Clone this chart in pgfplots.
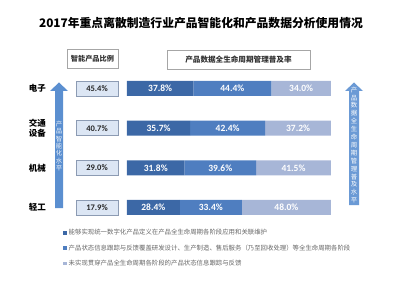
\documentclass[border=0pt]{standalone}
\usepackage{pgfplots}
\pgfplotsset{compat=1.18}
\usepackage{pgfplotstable}
\usepackage{fontspec}
\setmainfont{Noto Sans CJK SC}
\newfontfamily\cjk{Noto Sans CJK SC}
\newfontfamily\num{Carlito}
\definecolor{c1}{HTML}{3C68A6}
\definecolor{c2}{HTML}{4F7EC0}
\definecolor{c3}{HTML}{A7B6D7}
\definecolor{boxfill}{HTML}{DCE6F4}
\definecolor{boxdraw}{HTML}{8C9BB3}
\definecolor{arrowc}{HTML}{5B8FD0}
\definecolor{legtext}{HTML}{666666}

\pgfplotstableread{
y a b c p
3 37.8 44.4 34.0 45.4
2 35.7 42.4 37.2 40.7
1 31.8 39.6 41.5 29.0
0 28.4 33.4 48.0 17.9
}\data

\begin{document}
\begin{tikzpicture}[x=1pt,y=1pt]
\useasboundingbox (0,0) rectangle (400,290);
% title
\node[font=\cjk\bfseries\fontsize{11.8}{13}\selectfont] at (201,267) {2017年重点离散制造行业产品智能化和产品数据分析使用情况};
% header boxes
\node[draw=gray!70, fill=white, minimum width=51pt, minimum height=19pt, inner sep=0pt,
  font=\cjk\bfseries\fontsize{7.2}{8}\selectfont, text=black!80] at (92.5,231) {智能产品比例};
\node[draw=gray!70, fill=white, minimum width=143pt, minimum height=19pt, inner sep=0pt,
  font=\cjk\bfseries\fontsize{7.6}{8}\selectfont, text=black!80] at (238.5,230) {产品数据全生命周期管理普及率};
% arrows
\fill[arrowc] (55,82) -- (63,82) -- (63,199) -- (68,199) -- (59,207.5) -- (50,199) -- (55,199) -- cycle;
\node[align=center, inner sep=0pt, text=white!90!arrowc, font=\cjk\fontsize{6.4}{7.4}\selectfont] at (59,144) {产\\品\\智\\能\\化\\水\\平};
\fill[arrowc!90!white] (349,85) -- (359,85) -- (359,199) -- (363,199) -- (354,207.5) -- (345,199) -- (349,199) -- cycle;
\node[align=center, inner sep=0pt, text=white, font=\cjk\fontsize{6.4}{7.9}\selectfont] at (354,145) {产\\品\\数\\据\\全\\生\\命\\周\\期\\管\\理\\普\\及\\水\\平};

% stacked bars
\begin{axis}[at={(127pt,62.7pt)}, anchor=south west, scale only axis,
  width=204pt, height=158.7pt, xmin=0, xmax=100, ymin=-0.5, ymax=3.5,
  hide axis, xbar stacked, bar width=15pt,
  legend style={at={(-0.314,0.0)}, anchor=north west, draw=none, fill=none,
    font=\cjk\fontsize{6.4}{7}\selectfont, text=legtext, row sep=4.2pt,
    inner sep=0pt, cells={anchor=west}},
  legend image code/.code={\fill[#1] (0pt,-1.8pt) rectangle (3.6pt,1.8pt);},
  legend cell align=left]
\addplot[fill=c1, draw=none] table[y=y, x expr={100*\thisrow{a}/(\thisrow{a}+\thisrow{b}+\thisrow{c})}] {\data};
\addplot[fill=c2, draw=none] table[y=y, x expr={100*\thisrow{b}/(\thisrow{a}+\thisrow{b}+\thisrow{c})}] {\data};
\addplot[fill=c3, draw=none] table[y=y, x expr={100*\thisrow{c}/(\thisrow{a}+\thisrow{b}+\thisrow{c})}] {\data};
\legend{能够实现统一数字化产品定义在产品全生命周期各阶段应用和关联维护,
产品状态信息跟踪与反馈覆盖研发设计、生产制造、售后服务（乃至回收处理）等全生命周期各阶段,
未实现贯穿产品全生命周期各阶段的产品状态信息跟踪与反馈}
\end{axis}

% labels, category names, left boxes
\begin{axis}[at={(47pt,62.7pt)}, anchor=south west, scale only axis,
  width=353pt, height=158.7pt, xmin=47, xmax=400, ymin=-0.5, ymax=3.5,
  axis line style={draw=none}, xtick=\empty, ytick={0,1,2,3},
  yticklabels={轻工,机械,{交通\\设备},电子},
  yticklabel style={align=center, font=\cjk\bfseries\fontsize{8.5}{9.6}\selectfont, inner sep=1pt},
  major tick length=0pt, clip=false,
  /pgf/number format/assume math mode=true,
  every node near coord/.append style={anchor=center},
  point meta=explicit]
\addplot[draw=none, mark=none, nodes near coords={\pgfmathprintnumber[fixed,fixed zerofill,precision=1,assume math mode=true]{\pgfplotspointmeta}\%},
  every node near coord/.append style={anchor=center, draw=boxdraw, fill=boxfill, minimum width=42pt, minimum height=15pt, inner sep=0pt, text=black!85, font=\num\bfseries\fontsize{8.5}{9}\selectfont}]
  table[y=y, x expr=97, meta=p] {\data};
\addplot[draw=none, mark=none, nodes near coords={\pgfmathprintnumber[fixed,fixed zerofill,precision=1,assume math mode=true]{\pgfplotspointmeta}\%},
  every node near coord/.append style={anchor=center, text=white, font=\num\bfseries\fontsize{9.5}{10}\selectfont}]
  table[y=y, x expr={127+204*(0.5*\thisrow{a})/(\thisrow{a}+\thisrow{b}+\thisrow{c})}, meta=a] {\data};
\addplot[draw=none, mark=none, nodes near coords={\pgfmathprintnumber[fixed,fixed zerofill,precision=1,assume math mode=true]{\pgfplotspointmeta}\%},
  every node near coord/.append style={anchor=center, text=white, font=\num\bfseries\fontsize{9.5}{10}\selectfont}]
  table[y=y, x expr={127+204*(\thisrow{a}+0.5*\thisrow{b})/(\thisrow{a}+\thisrow{b}+\thisrow{c})}, meta=b] {\data};
\addplot[draw=none, mark=none, nodes near coords={\pgfmathprintnumber[fixed,fixed zerofill,precision=1,assume math mode=true]{\pgfplotspointmeta}\%},
  every node near coord/.append style={anchor=center, text=white, font=\num\bfseries\fontsize{9.5}{10}\selectfont}]
  table[y=y, x expr={127+204*(\thisrow{a}+\thisrow{b}+0.5*\thisrow{c})/(\thisrow{a}+\thisrow{b}+\thisrow{c})}, meta=c] {\data};
\end{axis}
\end{tikzpicture}
\end{document}
